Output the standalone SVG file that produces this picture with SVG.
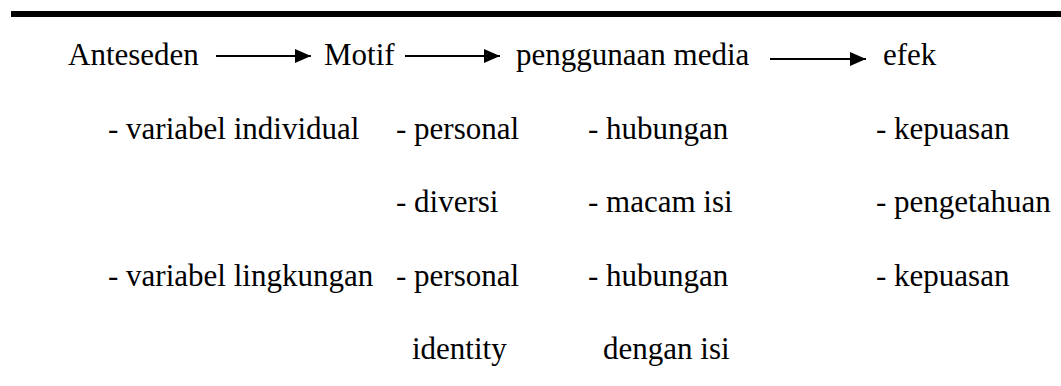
<svg xmlns="http://www.w3.org/2000/svg" width="1061" height="386" viewBox="0 0 1061 386">
<style>
text{font-family:"Liberation Serif","Times New Roman",serif;font-size:31px;fill:#000}
.c{stroke:#000;stroke-width:2;fill:none}
</style>
<defs>
<marker id="ah" viewBox="0 0 16 14" refX="16" refY="7" markerWidth="16" markerHeight="14" markerUnits="userSpaceOnUse" orient="auto">
<path d="M0,0 L16,7 L0,14 Z" fill="#000"/>
</marker>
</defs>
<rect x="11" y="11" width="1050" height="6" fill="#000"/>
<g id="connectors">
<line class="c" x1="216" y1="56" x2="311" y2="56" marker-end="url(#ah)"/>
<line class="c" x1="405" y1="56" x2="500" y2="56" marker-end="url(#ah)"/>
<line class="c" x1="770" y1="59" x2="866" y2="59" marker-end="url(#ah)"/>
</g>
<g id="anteseden">
<text x="68" y="65">Anteseden</text>
<text x="108" y="139">- variabel individual</text>
<text x="108" y="286">- variabel lingkungan</text>
</g>
<g id="motif">
<text x="324" y="65">Motif</text>
<text x="396" y="139">- personal</text>
<text x="396" y="212">- diversi</text>
<text x="396" y="286">- personal</text>
<text x="412" y="359">identity</text>
</g>
<g id="penggunaan">
<text x="516" y="65">penggunaan media</text>
<text x="588" y="139">- hubungan</text>
<text x="588" y="212">- macam isi</text>
<text x="588" y="286">- hubungan</text>
<text x="603" y="359">dengan isi</text>
</g>
<g id="efek">
<text x="883" y="65">efek</text>
<text x="876" y="139">- kepuasan</text>
<text x="876" y="212">- pengetahuan</text>
<text x="876" y="286">- kepuasan</text>
</g>
</svg>
